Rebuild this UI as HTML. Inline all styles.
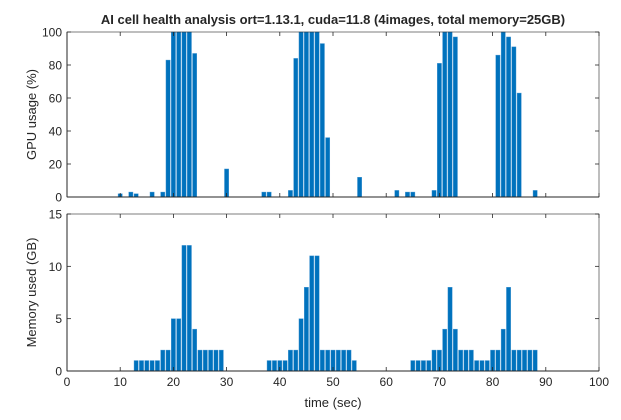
<!DOCTYPE html>
<html><head><meta charset="utf-8"><style>
body{margin:0;background:#fff}
svg text{font-family:"Liberation Sans",sans-serif;fill:#262626}
</style></head><body>
<svg id="chart" width="621" height="415" xmlns="http://www.w3.org/2000/svg">
<rect width="621" height="415" fill="#fff"/>
<text x="333" y="24" text-anchor="middle" font-size="13" font-weight="bold" fill="#000">AI cell health analysis ort=1.13.1, cuda=11.8 (4images, total memory=25GB)</text>
<g id="top"></g><g id="bottom"></g>
</svg>
<script>
const gpuTimes=[10,12,13,16,18,19,20,21,22,23,24,30,37,38,42,43,44,45,46,47,48,49,55,62,64,65,69,70,71,72,73,81,82,83,84,85,88];
const gpuValues=[2,3,2,3,3,83,100,100,100,100,87,17,3,3,4,84,100,100,100,100,93,36,12,4,3,3,4,81,100,100,97,86,100,97,91,63,4];
const memTimes=[13,14,15,16,17,18,19,20,21,22,23,24,25,26,27,28,29,38,39,40,41,42,43,44,45,46,47,48,49,50,51,52,53,54,65,66,67,68,69,70,71,72,73,74,75,76,77,78,79,80,81,82,83,84,85,86,87,88];
const memValues=[1,1,1,1,1,2,2,5,5,12,12,4,2,2,2,2,2,1,1,1,1,2,2,5,8,11,11,2,2,2,2,2,2,1,1,1,1,1,2,2,4,8,4,2,2,2,1,1,1,2,2,4,8,2,2,2,2,2];
const xTicks=[0,10,20,30,40,50,60,70,80,90,100];
const gpuTicks=[0,20,40,60,80,100];
const memTicks=[0,5,10,15];

const NS="http://www.w3.org/2000/svg";
const L=67,R=599;
const xs=v=>L+(v/100)*(R-L);
function mk(tag,attrs,parent,txt){const e=document.createElementNS(NS,tag);for(const k in attrs)e.setAttribute(k,attrs[k]);if(txt!==undefined)e.textContent=txt;parent.appendChild(e);return e;}

function panel(g,top,bot,ymax,times,vals,yt,ylabel,name,showX){
  const ys=v=>bot-(v/ymax)*(bot-top);
  const bw=0.8*(R-L)/100;
  times.forEach((t,i)=>{
    const r=mk('rect',{x:xs(t)-bw/2,y:ys(vals[i]),width:bw,height:bot-ys(vals[i]),fill:'#0072BD',stroke:'#4d9ad4','stroke-width':0.4},g);
    
    
  });
  const box=mk('rect',{x:L,y:top,width:R-L,height:bot-top,fill:'none',stroke:'#262626','stroke-width':0.6},g);
  
  
  mk('line',{x1:L,y1:bot,x2:R,y2:bot,stroke:'#262626','stroke-width':1},g);
  mk('line',{x1:L,y1:top,x2:L,y2:bot,stroke:'#262626','stroke-width':1},g);
  xTicks.forEach(t=>{
    mk('line',{x1:xs(t),y1:bot,x2:xs(t),y2:bot-4,stroke:'#262626','stroke-width':0.8},g);
    mk('line',{x1:xs(t),y1:top,x2:xs(t),y2:top+4,stroke:'#262626','stroke-width':0.8},g);
    if(showX){const tx=mk('text',{x:xs(t),y:bot+15,'text-anchor':'middle','font-size':12},g,String(t));
      
      }
  });
  yt.forEach(v=>{
    mk('line',{x1:L,y1:ys(v),x2:L+4,y2:ys(v),stroke:'#262626','stroke-width':0.8},g);
    mk('line',{x1:R,y1:ys(v),x2:R-4,y2:ys(v),stroke:'#262626','stroke-width':0.8},g);
    const tx=mk('text',{x:L-5,y:ys(v)+4.5,'text-anchor':'end','font-size':12},g,String(v));
    
    
  });
  const yl=mk('text',{x:0,y:0,'text-anchor':'middle','font-size':13,transform:`translate(${L-31},${(top+bot)/2}) rotate(-90)`},g,ylabel);
  
  
}
panel(document.getElementById('top'),32,197,100,gpuTimes,gpuValues,gpuTicks,'GPU usage (%)','gpu',false);
panel(document.getElementById('bottom'),214,371,15,memTimes,memValues,memTicks,'Memory used (GB)','memory',true);
const xl=mk('text',{x:(L+R)/2,y:407,'text-anchor':'middle','font-size':13},document.getElementById('chart'),'time (sec)');


</script>
</body></html>
